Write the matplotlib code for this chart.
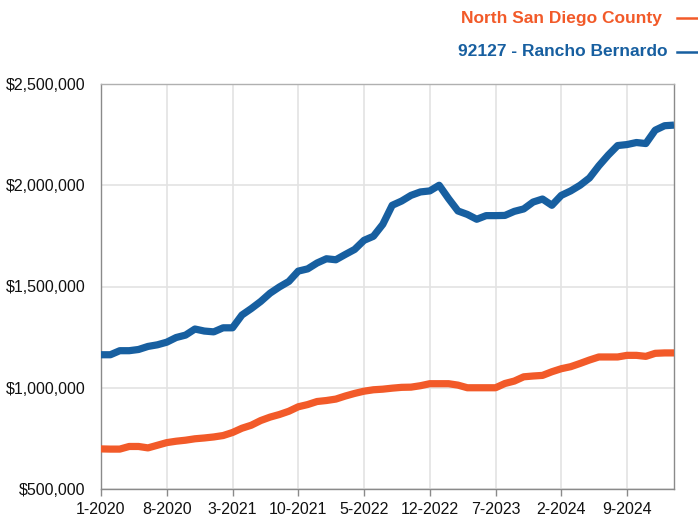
import matplotlib
matplotlib.use("Agg")
import matplotlib.pyplot as plt
from matplotlib.lines import Line2D
from matplotlib.ticker import FuncFormatter, MultipleLocator
import numpy as np

months = [f"{m}-{y}" for y in range(2020, 2026) for m in range(1, 13)][:62]

rancho_bernardo = [
    1163, 1163, 1183, 1183, 1189, 1204, 1212, 1225, 1248, 1260,
    1290, 1280, 1276, 1296, 1296, 1359, 1391, 1426, 1467, 1498,
    1525, 1576, 1587, 1616, 1637, 1632, 1658, 1683, 1728, 1748,
    1807, 1901, 1922, 1950, 1967, 1972, 2000, 1934, 1873, 1856,
    1832, 1850, 1850, 1851, 1871, 1883, 1917, 1932, 1901, 1950,
    1972, 2000, 2036, 2096, 2149, 2196, 2201, 2211, 2206, 2272,
    2294, 2297,
]
north_sd = [
    698, 697, 697, 710, 710, 703, 716, 729, 736, 741,
    748, 752, 757, 764, 779, 800, 815, 838, 855, 868,
    884, 906, 917, 932, 937, 944, 959, 972, 983, 990,
    993, 998, 1002, 1003, 1010, 1020, 1020, 1020, 1013, 1000,
    1000, 1000, 1000, 1021, 1033, 1054, 1058, 1061, 1079, 1094,
    1104, 1120, 1137, 1152, 1152, 1152, 1160, 1160, 1155, 1170,
    1172, 1172,
]
series_names = ["North San Diego County", "92127 - Rancho Bernardo"]
colors = ["#f25a29", "#175fa0"]

x = np.arange(len(months))
rb = np.array(rancho_bernardo) * 1000
ns = np.array(north_sd) * 1000

fig = plt.figure(figsize=(6.98, 5.18), dpi=100)
ax = fig.add_axes([101/698, 1-489/518, (674-101)/698, (489-84)/518])

ax.plot(x, rb, color=colors[1], lw=5.2, solid_joinstyle="round", solid_capstyle="butt", zorder=3)
ax.plot(x, ns, color=colors[0], lw=5.2, solid_joinstyle="round", solid_capstyle="butt", zorder=3)

ax.set_xlim(0, len(months) - 1)
ax.set_ylim(500000, 2500000)
ax.yaxis.set_major_locator(MultipleLocator(500000))
ax.yaxis.set_major_formatter(FuncFormatter(lambda v, p: f"${v:,.0f}"))
tick_idx = list(range(0, len(months), 7))
ax.set_xticks(tick_idx)
ax.set_xticklabels([months[i] for i in tick_idx])

ax.grid(True, color="#e3e3e3", lw=1.2, zorder=0)
ax.set_axisbelow(True)
for s in ["left", "right", "bottom", "top"]:
    ax.spines[s].set_color("#8a8a8a")
    ax.spines[s].set_linewidth(1.0)
ax.spines["top"].set_color("#b0b0b0")

ax.tick_params(axis="y", length=0, pad=11, labelsize=11.5, labelcolor="#111111")
ax.tick_params(axis="x", length=5, width=1, color="#8a8a8a", pad=4, labelsize=11.5, labelcolor="#111111")
for lbl in ax.get_xticklabels() + ax.get_yticklabels():
    lbl.set_family("Liberation Sans")

# Legend (top right)
leg_font = ["Liberation Sans", "DejaVu Sans"]
fig.text(662/698, 1-18/518, series_names[0], ha="right", va="center", color=colors[0],
         fontsize=12.5, fontweight="bold", family=leg_font)
fig.text(667/698, 1-52/518, series_names[1], ha="right", va="center", color=colors[1],
         fontsize=12.5, fontweight="bold", family=leg_font)
fig.add_artist(Line2D([677/698, 1.0], [1-18/518, 1-18/518], color=colors[0], lw=1.8, transform=fig.transFigure))
fig.add_artist(Line2D([677/698, 1.0], [1-52/518, 1-52/518], color=colors[1], lw=1.8, transform=fig.transFigure))

fig.savefig("out.png", dpi=100)
